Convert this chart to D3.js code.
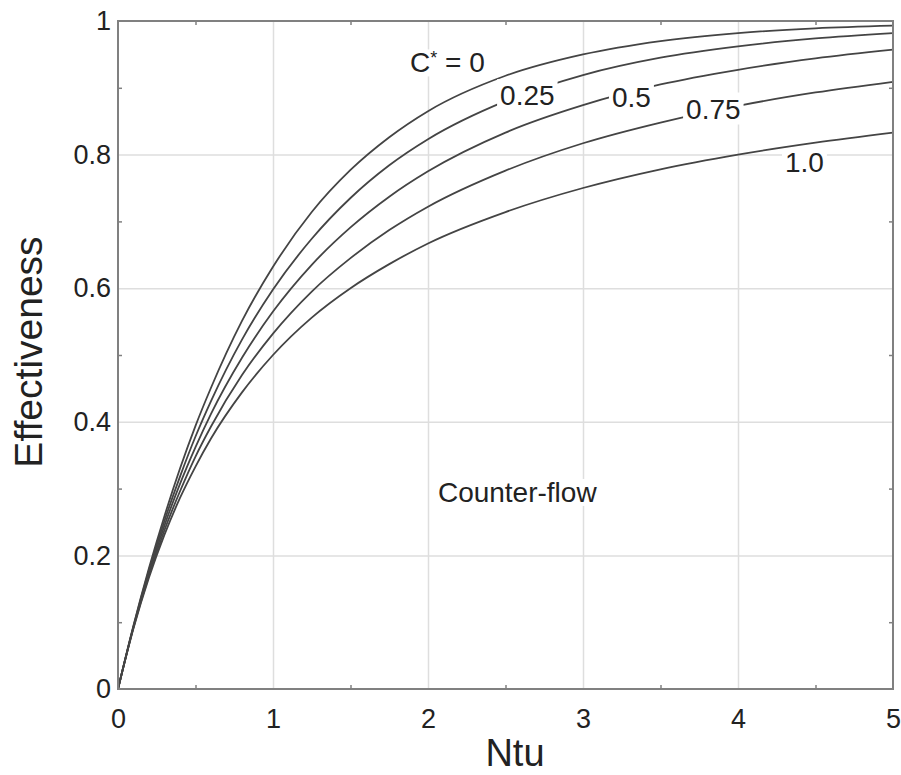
<html>
<script src='https://d3js.org/d3.v7.min.js'></script>
<style>
body {margin: 0; background: white;}
text {font-family: 'Liberation Sans', Arial, sans-serif; fill: #222;}
</style>
<body onload='init()'>
<svg width=901 height=775>
</svg>
<script>
// values (Ntu vs effectiveness, counter-flow)
var ntu     = [0, 0.1, 0.2, 0.3, 0.4, 0.5, 0.6, 0.8, 1.0, 1.25, 1.5, 1.75, 2.0, 2.5, 3.0, 3.5, 4.0, 4.5, 5.0];
var effC0   = [0, 0.095, 0.181, 0.259, 0.330, 0.394, 0.451, 0.551, 0.632, 0.714, 0.777, 0.826, 0.865, 0.918, 0.950, 0.970, 0.982, 0.989, 0.993];
var effC025 = [0, 0.094, 0.178, 0.252, 0.318, 0.378, 0.431, 0.523, 0.598, 0.674, 0.735, 0.784, 0.823, 0.880, 0.919, 0.945, 0.962, 0.974, 0.982];
var effC05  = [0, 0.093, 0.174, 0.245, 0.307, 0.362, 0.412, 0.496, 0.565, 0.635, 0.691, 0.737, 0.775, 0.833, 0.874, 0.905, 0.927, 0.944, 0.957];
var effC075 = [0, 0.092, 0.170, 0.238, 0.296, 0.348, 0.393, 0.470, 0.532, 0.595, 0.645, 0.687, 0.722, 0.776, 0.817, 0.848, 0.873, 0.893, 0.909];
var effC1   = [0, 0.091, 0.167, 0.231, 0.286, 0.333, 0.375, 0.444, 0.500, 0.556, 0.600, 0.636, 0.667, 0.714, 0.750, 0.778, 0.800, 0.818, 0.833];

var curveLabels = ["0", "0.25", "0.5", "0.75", "1.0"];
var xTicks = [0, 1, 2, 3, 4, 5];
var yTicks = [0, 0.2, 0.4, 0.6, 0.8, 1];
var yTickLabels = ["0", "0.2", "0.4", "0.6", "0.8", "1"];
var xMinor = [0.5, 1.5, 2.5, 3.5, 4.5];
var yMinor = [0.1, 0.3, 0.5, 0.7, 0.9];

function init() {
	var svg = d3.select("svg");
	var left = 118, right = 893, top = 21, bottom = 689;
	var frameCol = "#808080";

	var x = d3.scaleLinear().domain([0, 5]).range([left, right]);
	var y = d3.scaleLinear().domain([0, 1]).range([bottom, top]);

	var series = [effC0, effC025, effC05, effC075, effC1];

	// grid
	var gx = svg.append("g").attr("transform", "translate(0," + bottom + ")")
		.call(d3.axisBottom(x).tickValues([1, 2, 3, 4]).tickSize(-(bottom - top)).tickFormat(""));
	var gy = svg.append("g").attr("transform", "translate(" + left + ",0)")
		.call(d3.axisLeft(y).tickValues([0.2, 0.4, 0.6, 0.8]).tickSize(-(right - left)).tickFormat(""));
	[gx, gy].forEach(function(g) {
		g.select(".domain").remove();
		g.selectAll("line").attr("stroke", "#dedede").attr("stroke-width", 1.5);
	});

	// label placement, in chart units: [ntu, eff] of the text's left baseline
	var labelPos = [[1.884, 0.923], [2.465, 0.874], [3.187, 0.871], [3.665, 0.854], [4.303, 0.774]];
	var cutsCurve = [false, true, true, true, false];

	var labelG = svg.append("g");
	var texts = [];
	curveLabels.forEach(function(lab, i) {
		var t = labelG.append("text")
			.attr("x", x(labelPos[i][0])).attr("y", y(labelPos[i][1]))
			.style("font-size", "28px");
		if (i == 0) {
			t.append("tspan").text("C");
			t.append("tspan").text("*").style("font-size", "18px").attr("dy", -8);
			t.append("tspan").text(" = " + lab).attr("dy", 8);
		} else {
			t.text(lab);
		}
		texts.push(t);
	});
	var cf = labelG.append("text").attr("x", x(2.064)).attr("y", y(0.280))
		.style("font-size", "28px").text("Counter-flow");
	texts.push(cf);

	// white boxes behind labels (hide gridlines)
	var boxes = [];
	texts.forEach(function(t) {
		var b = t.node().getBBox();
		boxes.push(b);
		labelG.insert("rect", "text")
			.attr("x", b.x - 3).attr("y", b.y + 2).attr("width", b.width + 6).attr("height", b.height - 4)
			.attr("fill", "white");
	});

	// curves
	var line = d3.line().x(function(d, i) { return x(ntu[i]); }).y(function(d) { return y(d); })
		.curve(d3.curveMonotoneX);
	svg.append("g").selectAll("path").data(series).enter().append("path")
		.attr("d", line)
		.attr("fill", "none")
		.attr("stroke", "#444")
		.attr("stroke-width", 1.8);

	// labels that cut the curves
	var topG = svg.append("g");
	texts.forEach(function(t, i) {
		var b = boxes[i];
		if (cutsCurve[i]) {
			topG.append("rect")
				.attr("x", b.x - 3).attr("y", b.y - 1).attr("width", b.width + 6).attr("height", b.height + 1)
				.attr("fill", "white");
		}
		topG.node().appendChild(t.node());
	});

	// frame
	svg.append("rect").attr("x", left).attr("y", top).attr("width", right - left).attr("height", bottom - top)
		.attr("fill", "none").attr("stroke", frameCol).attr("stroke-width", 2);

	// minor ticks on all four sides
	var mb = svg.append("g").attr("transform", "translate(0," + bottom + ")").call(d3.axisBottom(x).tickValues(xMinor).tickSize(-4).tickFormat(""));
	var mt = svg.append("g").attr("transform", "translate(0," + top + ")").call(d3.axisTop(x).tickValues(xMinor).tickSize(-4).tickFormat(""));
	var ml = svg.append("g").attr("transform", "translate(" + left + ",0)").call(d3.axisLeft(y).tickValues(yMinor).tickSize(-4).tickFormat(""));
	var mr = svg.append("g").attr("transform", "translate(" + right + ",0)").call(d3.axisRight(y).tickValues(yMinor).tickSize(-4).tickFormat(""));
	[mb, mt, ml, mr].forEach(function(g) {
		g.select(".domain").remove();
		g.selectAll("line").attr("stroke", frameCol).attr("stroke-width", 1.5);
	});

	// tick labels
	var xa = svg.append("g").attr("transform", "translate(0," + bottom + ")")
		.call(d3.axisBottom(x).tickValues(xTicks).tickSize(0).tickPadding(20).tickFormat(d3.format("d")));
	var ya = svg.append("g").attr("transform", "translate(" + left + ",0)")
		.call(d3.axisLeft(y).tickValues(yTicks).tickSize(0).tickPadding(7).tickFormat(function(d, i) { return yTickLabels[i]; }));
	[xa, ya].forEach(function(g) {
		g.select(".domain").remove();
		g.attr("font-family", null).attr("font-size", null);
		g.selectAll("text").style("font-size", "27px").attr("fill", "#222");
	});

	// axis titles
	svg.append("text").attr("x", 515).attr("y", 766).attr("text-anchor", "middle")
		.style("font-size", "38px").text("Ntu");
	svg.append("text").attr("transform", "translate(42,352) rotate(-90)").attr("text-anchor", "middle")
		.style("font-size", "39px").text("Effectiveness");
}
</script>
</body>
</html>
